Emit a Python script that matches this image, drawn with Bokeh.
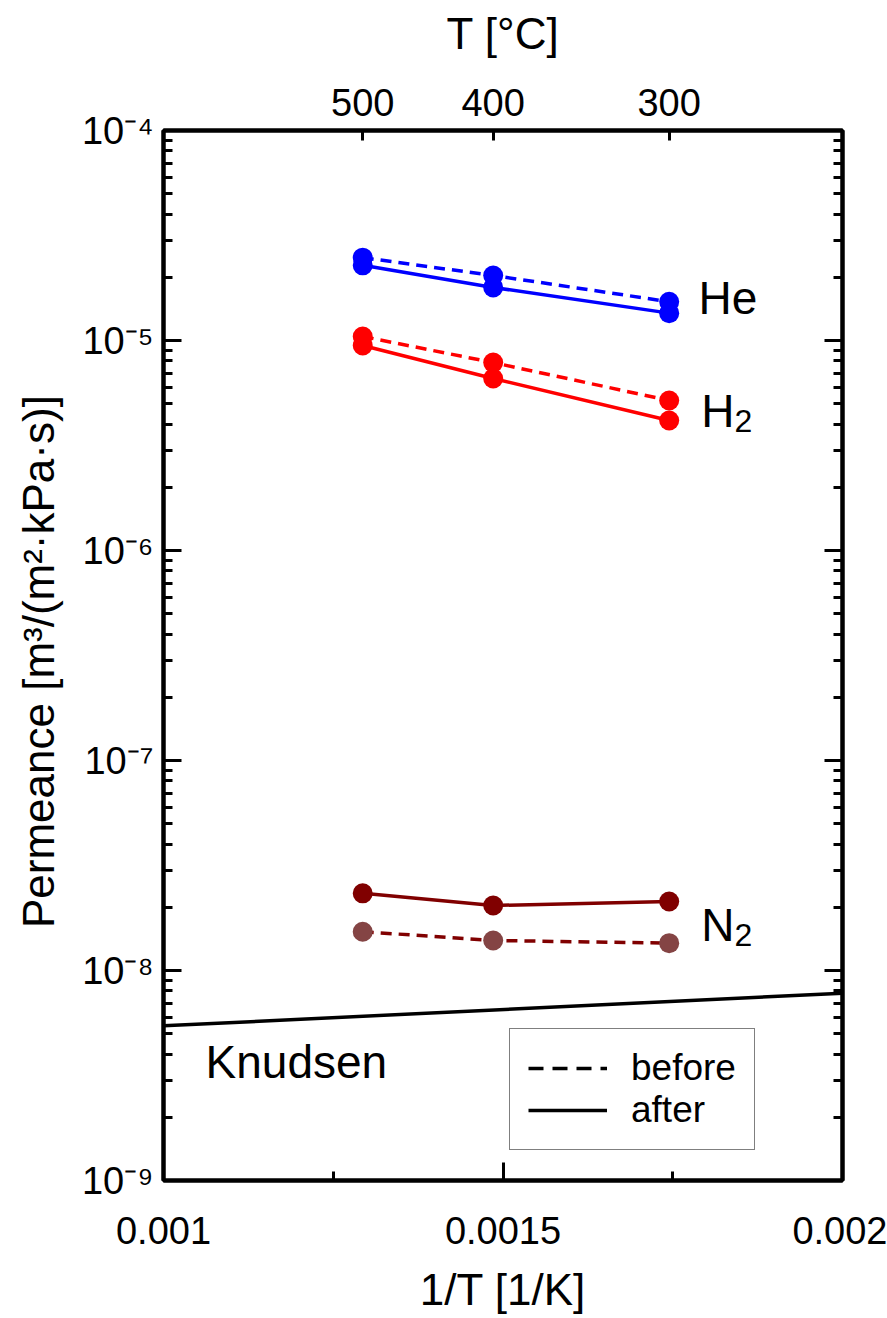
import math
from bokeh.plotting import figure
from bokeh.models import (Range1d, LinearAxis, LogAxis, FixedTicker, CustomJSTickFormatter,
                          Label, Legend, LegendItem)
from bokeh.embed import file_html
from bokeh.resources import INLINE

# ---- data ----
temps_C = [500, 400, 300]
inv_T = [1.0 / (t + 273.15) for t in temps_C]

he_before = [2.48e-5, 2.04e-5, 1.53e-5]
he_after = [2.28e-5, 1.79e-5, 1.35e-5]
h2_before = [1.045e-5, 7.85e-6, 5.18e-6]
h2_after = [9.47e-6, 6.59e-6, 4.16e-6]
n2_before = [1.53e-8, 1.39e-8, 1.35e-8]
n2_after = [2.33e-8, 2.04e-8, 2.13e-8]

knudsen_x = [0.001, 0.002]
knudsen_y = [5.45e-9, 7.8e-9]

x_ticks = [0.001, 0.0015, 0.002]
x_minor = [0.00125, 0.00175]
decades = [-9, -8, -7, -6, -5, -4]

FONT = "Liberation Sans"

p = figure(width=887, height=1318, x_range=Range1d(0.001, 0.002), y_range=Range1d(1e-9, 1e-4),
           y_axis_type="log", output_backend="svg", toolbar_location=None,
           min_border_left=163, min_border_right=45, min_border_top=130, min_border_bottom=138)
p.grid.visible = False
p.outline_line_color = "black"
p.outline_line_width = 4
p.background_fill_color = "white"
p.border_fill_color = "white"

y_major = [10.0 ** d for d in decades]
y_minor = [k * 10.0 ** d for d in decades[:-1] for k in range(2, 10)]


def style_axis(ax, major_in=18, minor_in=9):
    ax.axis_line_width = 4
    ax.axis_line_color = "black"
    ax.major_tick_line_width = 3
    ax.minor_tick_line_width = 3
    ax.major_tick_in = major_in
    ax.major_tick_out = 0
    ax.minor_tick_in = minor_in
    ax.minor_tick_out = 0
    ax.major_label_text_font = FONT
    ax.major_label_text_font_size = "38px"
    ax.major_label_text_color = "black"
    ax.axis_label_text_font = FONT
    ax.axis_label_text_font_style = "normal"
    ax.axis_label_text_font_size = "44px"
    ax.axis_label_text_color = "black"


# bottom axis
xb = p.xaxis[0]
xb.ticker = FixedTicker(ticks=x_ticks, minor_ticks=x_minor)
xb.formatter = CustomJSTickFormatter(code="return tick.toString();")
style_axis(xb)
xb.major_label_standoff = 36
xb.axis_label = "1/T [1/K]"
xb.axis_label_standoff = 18

# left axis: 10^n labels with superscript exponents
yl = p.yaxis[0]
yl.ticker = FixedTicker(ticks=y_major, minor_ticks=y_minor)
yl.formatter = CustomJSTickFormatter(code="""
const sup = {'-':'\u207b','0':'\u2070','1':'\u00b9','2':'\u00b2','3':'\u00b3','4':'\u2074',
             '5':'\u2075','6':'\u2076','7':'\u2077','8':'\u2078','9':'\u2079'};
const e = Math.round(Math.log10(tick)).toString();
let s = '';
for (const c of e) { s += sup[c]; }
return '10' + s;
""")
style_axis(yl)
yl.major_label_text_font_size = "38px"
yl.major_label_standoff = 10
yl.axis_label = "Permeance  [m³/(m²·kPa·s)]"
yl.axis_label_standoff = 16

# right axis
yr = LogAxis(ticker=FixedTicker(ticks=y_major, minor_ticks=y_minor),
             formatter=CustomJSTickFormatter(code="return '';"))
style_axis(yr)
p.add_layout(yr, "right")

# top axis (temperature)
xt = LinearAxis(ticker=FixedTicker(ticks=inv_T),
                formatter=CustomJSTickFormatter(code="return Math.round(1/tick - 273.15).toString();"))
style_axis(xt, major_in=10)
xt.minor_tick_line_color = None
xt.major_label_standoff = 15
xt.axis_label = "T [°C]"
xt.axis_label_standoff = 28
p.add_layout(xt, "above")

# knudsen line
p.line(knudsen_x, knudsen_y, line_color="black", line_width=3.5)

DASH = "11 7"
BLUE = "#0000ff"
RED = "#ff0000"
MAROON = "#800000"
MAROON_LIGHT = "#844444"

p.line(inv_T, he_after, line_color=BLUE, line_width=3.5)
p.scatter(inv_T, he_after, size=20, fill_color=BLUE, line_color=None)
p.line(inv_T, he_before, line_color=BLUE, line_width=3.5, line_dash=DASH)
p.scatter(inv_T, he_before, size=20, fill_color=BLUE, line_color=None)

p.line(inv_T, h2_after, line_color=RED, line_width=3.5)
p.scatter(inv_T, h2_after, size=20, fill_color=RED, line_color=None)
p.line(inv_T, h2_before, line_color=RED, line_width=3.5, line_dash=DASH)
p.scatter(inv_T, h2_before, size=20, fill_color=RED, line_color=None)

p.line(inv_T, n2_after, line_color=MAROON, line_width=3.5)
p.scatter(inv_T, n2_after, size=20, fill_color=MAROON, line_color=None)
p.line(inv_T, n2_before, line_color=MAROON, line_width=3.5, line_dash=DASH)
p.scatter(inv_T, n2_before, size=20, fill_color=MAROON_LIGHT, line_color=None)

# legend (proxy lines placed outside the visible range)
r_before = p.line([0.0, 0.0001], [1e-12, 1e-12], line_color="black", line_width=3.5, line_dash="15 9")
r_after = p.line([0.0, 0.0001], [1e-12, 1e-12], line_color="black", line_width=3.5)
legend = Legend(items=[LegendItem(label="before", renderers=[r_before]),
                       LegendItem(label="after", renderers=[r_after])],
                location=(346, 30), orientation="vertical")
legend.border_line_color = "black"
legend.border_line_width = 1.5
legend.background_fill_color = "white"
legend.background_fill_alpha = 1
legend.label_text_font = FONT
legend.label_text_font_size = "37px"
legend.label_text_color = "black"
legend.glyph_width = 79
legend.glyph_height = 36
legend.label_height = 36
legend.spacing = 0
legend.padding = 18
legend.margin = 0
legend.label_standoff = 24
p.add_layout(legend)


# text labels inside the plot
def add_text(x, y, text, size, align="left", baseline="middle"):
    p.add_layout(Label(x=x, y=y, text=text, text_font=FONT, text_font_size=size,
                       text_align=align, text_baseline=baseline, text_color="black"))


add_text(0.001788, 1.60e-5, "He", "46px")
add_text(0.001792, 4.64e-6, "H", "46px")
add_text(0.001841, 4.15e-6, "2", "32px")
add_text(0.001792, 1.64e-8, "N", "46px")
add_text(0.001841, 1.48e-8, "2", "32px")
add_text(0.0010619, 3.65e-9, "Knudsen", "46px")

open("out.html", "w").write(file_html(p, INLINE))
